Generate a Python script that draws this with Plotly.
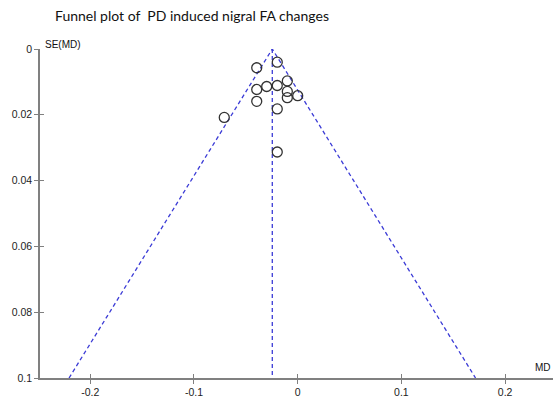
import plotly.graph_objects as go

# Study estimates
md = [-0.0197, -0.0395, -0.0100, -0.0299, -0.0197, -0.0395, -0.0100,
      -0.0100, 0.0000, -0.0395, -0.0197, -0.0708, -0.0197]
se = [0.0040, 0.0057, 0.0097, 0.0114, 0.0111, 0.0123, 0.0129,
      0.0148, 0.0142, 0.0159, 0.0182, 0.0208, 0.0313]
pooled = -0.0245
se_max = 0.1

x_ticks = [-0.2, -0.1, 0, 0.1, 0.2]
x_tick_labels = ["-0.2", "-0.1", "0", "0.1", "0.2"]
y_ticks = [0, 0.02, 0.04, 0.06, 0.08, 0.1]
y_tick_labels = ["0", "0.02", "0.04", "0.06", "0.08", "0.1"]

line_col = "#3b3bd6"
axis_col = "#808080"
font_fam = "Liberation Sans, Arial, sans-serif"

fig = go.Figure()

# Funnel (pooled +/- 1.96 SE)
fig.add_trace(go.Scatter(
    x=[pooled - 1.96 * se_max, pooled, pooled + 1.96 * se_max],
    y=[se_max, 0, se_max],
    mode="lines", line=dict(color=line_col, width=1.3, dash="4px,3px"),
    hoverinfo="skip", showlegend=False))
# Pooled estimate vertical line
fig.add_trace(go.Scatter(
    x=[pooled, pooled], y=[0, se_max],
    mode="lines", line=dict(color=line_col, width=1.3, dash="4px,3px"),
    hoverinfo="skip", showlegend=False))
# Studies
fig.add_trace(go.Scatter(
    x=md, y=se, mode="markers",
    marker=dict(symbol="circle-open", size=10, color="#333333",
                line=dict(width=1.3, color="#333333")),
    showlegend=False))

# invisible copy on overlay axes so their inside tick marks are drawn
fig.add_trace(go.Scatter(x=md, y=se, xaxis="x2", yaxis="y2", mode="markers",
                         marker=dict(opacity=0), showlegend=False, hoverinfo="skip"))

fig.update_layout(
    width=553, height=397,
    margin=dict(l=40, r=0, t=49, b=19),
    paper_bgcolor="white", plot_bgcolor="white",
    font=dict(family=font_fam, size=10, color="#222222"),
    xaxis=dict(range=[-0.2485, 0.2462], tickvals=x_ticks, ticktext=x_tick_labels,
               showgrid=False, zeroline=False, showline=True,
               linecolor=axis_col, linewidth=1.5,
               ticks="outside", ticklen=4, tickwidth=1.2, tickcolor=axis_col,
               tickfont=dict(size=10.5)),
    xaxis2=dict(overlaying="x", matches="x", anchor="y", side="bottom",
                tickvals=x_ticks, showticklabels=False, showgrid=False,
                zeroline=False, ticks="inside", ticklen=4, tickwidth=1.2,
                tickcolor=axis_col),
    yaxis=dict(range=[0.1, 0], tickvals=y_ticks, ticktext=y_tick_labels,
               showgrid=False, zeroline=False, showline=True,
               linecolor=axis_col, linewidth=1.5,
               ticks="outside", ticklen=4, tickwidth=1.2, tickcolor=axis_col,
               tickfont=dict(size=10.5)),
    yaxis2=dict(overlaying="y", matches="y", anchor="x", side="left",
                tickvals=y_ticks, showticklabels=False, showgrid=False,
                zeroline=False, ticks="inside", ticklen=4, tickwidth=1.2,
                tickcolor=axis_col),
    annotations=[
        dict(text="Funnel plot of  PD induced nigral FA changes",
             xref="paper", yref="paper", x=(53 - 40) / 513, y=1 + (49 - 16) / 329,
             xanchor="left", yanchor="middle", showarrow=False,
             font=dict(family="Lato, Carlito, sans-serif", size=14, color="#111111")),
        dict(text="SE(MD)", xref="paper", yref="paper", x=3 / 513, y=1 + (49 - 44) / 329,
             xanchor="left", yanchor="middle", showarrow=False,
             font=dict(size=10, color="#111111")),
        dict(text="MD", xref="paper", yref="paper", x=1, y=(378.5 - 368) / 329,
             xanchor="right", yanchor="middle", showarrow=False,
             font=dict(size=10, color="#111111")),
    ],
)

fig.write_html("out.html", config={"displayModeBar": False},
               post_script="document.body.style.margin='0';document.body.style.overflow='hidden';")
